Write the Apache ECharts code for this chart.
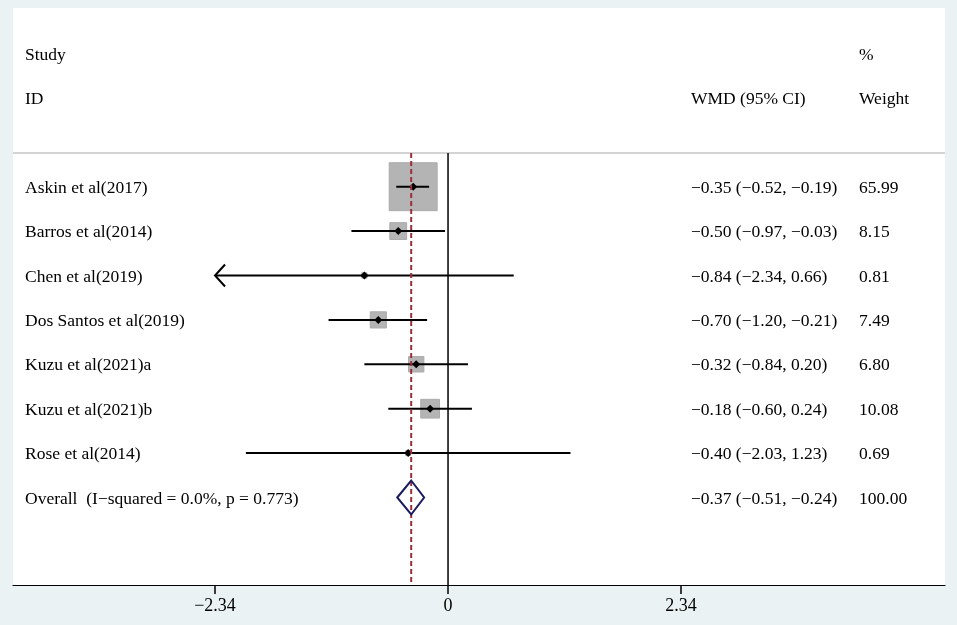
<!DOCTYPE html>
<html><head><meta charset="utf-8">
<script src="https://cdn.jsdelivr.net/npm/echarts@6/dist/echarts.min.js"></script>
<style>html,body{margin:0;padding:0;background:#eaf2f3}#c{width:957px;height:625px}</style>
</head><body><div id="c"></div>
<script>
const studies = ['Askin et al(2017)', 'Barros et al(2014)', 'Chen et al(2019)', 'Dos Santos et al(2019)', 'Kuzu et al(2021)a', 'Kuzu et al(2021)b', 'Rose et al(2014)'];
const estimates = [-0.35, -0.50, -0.84, -0.70, -0.32, -0.18, -0.40];
const lower = [-0.52, -0.97, -2.34, -1.20, -0.84, -0.60, -2.03];
const upper = [-0.19, -0.03, 0.66, -0.21, 0.20, 0.24, 1.23];
const weights = [65.99, 8.15, 0.81, 7.49, 6.80, 10.08, 0.69];
const overallLabel = 'Overall  (I\u2212squared = 0.0%, p = 0.773)';
const overallEst = -0.37;
const overallLo = -0.51;
const overallHi = -0.24;
const overallWeight = 100.00;
const tickValues = [-2.34, 0, 2.34];

const FONT = '"Liberation Serif","Times New Roman",serif';
const XMIN = -4.369, XMAX = 4.991;
const YMIN = -4.025, YMAX = 8.971, YHEAD = -0.759;
const fmt = v => (v < 0 ? '\u2212' : '') + Math.abs(v).toFixed(2);
const ciText = (e, l, h) => fmt(e) + ' (' + fmt(l) + ', ' + fmt(h) + ')';
const COL1 = 25, COL2 = 691, COL3 = 859, TDY = 1.5;

const rows = studies.map((s, i) => [estimates[i], i, lower[i], upper[i], weights[i]]);
const nStudies = studies.length;

function txt(t, x, y) {
  return { type: 'text', style: { text: t, x: x, y: y + TDY, fill: '#000', fontSize: 17.5, fontFamily: FONT, verticalAlign: 'middle', align: 'left' } };
}

const chart = echarts.init(document.getElementById('c'));
chart.setOption({
  backgroundColor: '#eaf2f3',
  animation: false,
  grid: { left: 13, right: 12, top: 8, bottom: 40, show: true, backgroundColor: '#fff', borderWidth: 0 },
  xAxis: {
    type: 'value', min: XMIN, max: XMAX,
    axisLine: { show: true, onZero: false, lineStyle: { color: '#000', width: 1.2 } },
    axisTick: { show: true, customValues: tickValues, length: 9, lineStyle: { color: '#000', width: 1.5 } },
    axisLabel: { customValues: tickValues, color: '#000', fontSize: 18, fontFamily: FONT, margin: 12,
      formatter: v => Math.abs(v) < 1e-9 ? '0' : fmt(v) },
    splitLine: { show: false }
  },
  yAxis: { type: 'value', inverse: true, min: YMIN, max: YMAX, show: false, splitLine: { show: false } },
  graphic: [
    txt('Study', COL1, 54),
    txt('ID', COL1, 98),
    txt('WMD (95% CI)', COL2, 98),
    txt('%', COL3, 54),
    txt('Weight', COL3, 98)
  ],
  series: [
    { type: 'line', silent: true, symbol: 'none', data: [[XMIN, YHEAD], [XMAX, YHEAD]], lineStyle: { color: '#c4c4c4', width: 1.5 }, z: 1 },
    { type: 'line', silent: true, symbol: 'none', data: [[0, YHEAD], [0, YMAX]], lineStyle: { color: '#000', width: 1.5 }, z: 2 },
    {
      type: 'custom', silent: true, z: 3,
      data: rows,
      encode: { x: 0, y: 1 },
      renderItem: function (params, api) {
        const e = api.value(0), i = api.value(1), l = api.value(2), h = api.value(3), w = api.value(4);
        const c = api.coord([e, i]), pl = api.coord([l, i]), ph = api.coord([h, i]);
        const side = 5.9 * Math.sqrt(w);
        const ch = [
          { type: 'rect', shape: { x: c[0] - side / 2, y: c[1] - side / 2, width: side, height: side }, style: { fill: '#b4b4b4', stroke: '#aaaaaa', lineWidth: 1 } },
          { type: 'line', shape: { x1: pl[0], y1: pl[1], x2: ph[0], y2: ph[1] }, style: { stroke: '#000', lineWidth: 2 } },
          { type: 'polygon', shape: { points: [[c[0] - 4, c[1]], [c[0], c[1] - 4], [c[0] + 4, c[1]], [c[0], c[1] + 4]] }, style: { fill: '#000' } }
        ];
        if (l <= tickValues[0]) {
          ch.push({ type: 'polyline', shape: { points: [[pl[0] + 10, pl[1] - 11], [pl[0], pl[1]], [pl[0] + 10, pl[1] + 11]] }, style: { stroke: '#000', lineWidth: 2, fill: null } });
        }
        ch.push(txt(studies[i], COL1, c[1]));
        ch.push(txt(ciText(e, l, h), COL2, c[1]));
        ch.push(txt(weights[i].toFixed(2), COL3, c[1]));
        return { type: 'group', children: ch };
      }
    },
    { type: 'line', silent: true, symbol: 'none', data: [[overallEst, YHEAD], [overallEst, YMAX]], lineStyle: { color: '#9e2f3a', width: 2, type: [5, 3] }, z: 4 },
    {
      type: 'custom', silent: true, z: 5,
      data: [[overallEst, nStudies, overallLo, overallHi, overallWeight]],
      encode: { x: 0, y: 1 },
      renderItem: function (params, api) {
        const e = api.value(0), i = api.value(1), l = api.value(2), h = api.value(3), w = api.value(4);
        const c = api.coord([e, i]), pl = api.coord([l, i]), ph = api.coord([h, i]);
        return { type: 'group', children: [
          { type: 'polygon', shape: { points: [[pl[0], c[1]], [c[0], c[1] - 17], [ph[0], c[1]], [c[0], c[1] + 17]] }, style: { fill: 'none', stroke: '#1a1a5e', lineWidth: 2 } },
          txt(overallLabel, COL1, c[1]),
          txt(ciText(e, l, h), COL2, c[1]),
          txt(w.toFixed(2), COL3, c[1])
        ] };
      }
    }
  ]
});
</script></body></html>
